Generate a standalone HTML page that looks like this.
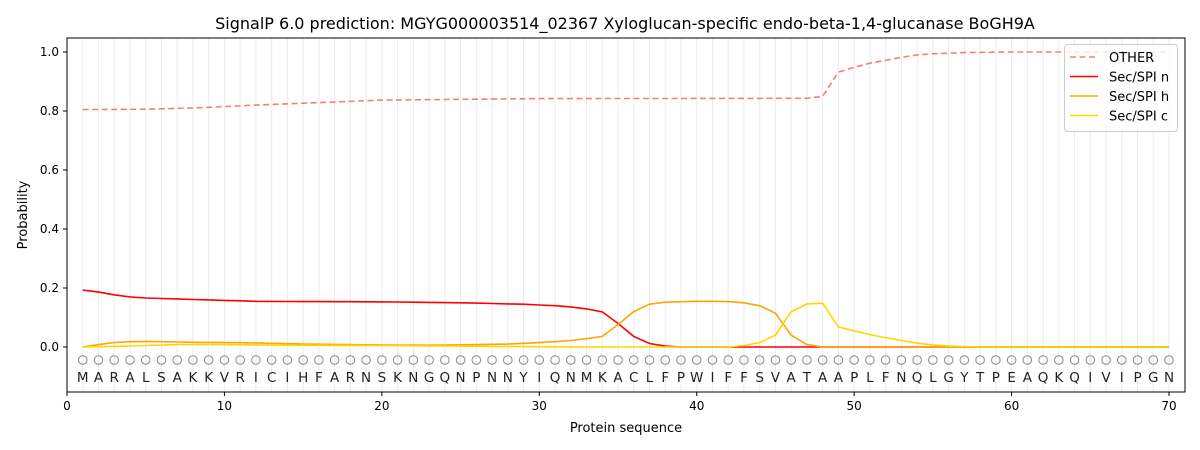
<!DOCTYPE html>
<html><head><meta charset="utf-8"><style>body{margin:0;background:#fff}svg{display:block;font-family:"DejaVu Sans","Liberation Sans",sans-serif}</style></head>
<body>
<svg id="s" width="1200" height="450" xmlns="http://www.w3.org/2000/svg"></svg>
<script>
const X=i=>67+i*15.743, Y=v=>347-v*295;
const seq="MARALSAKKVRICIHFARNSKNGQNPNNYIQNMKACLFPWIFFSVATAAPLFNQLGYTPEAQKQIVIPGN";
function interp(pts){const a=[];for(let i=1;i<=70;i++){let v;for(let k=0;k<pts.length-1;k++){if(i>=pts[k][0]&&i<=pts[k+1][0]){const t=(i-pts[k][0])/(pts[k+1][0]-pts[k][0]);v=pts[k][1]+t*(pts[k+1][1]-pts[k][1]);break;}}if(v===undefined)v=pts[pts.length-1][1];a.push(v);}return a;}
const other=interp([[1,.805],[5,.806],[8,.81],[12,.82],[20,.837],[30,.842],[47,.843],[48,.85],[49,.932],[50,.948],[51,.962],[52,.972],[53,.982],[54,.99],[55,.994],[57,.998],[60,1],[70,1]]);
const n=interp([[1,.193],[2,.186],[3,.177],[4,.17],[5,.166],[7,.163],[8,.161],[10,.158],[12,.155],[15,.154],[20,.153],[25,.15],[29,.145],[31,.14],[32,.136],[33,.129],[34,.119],[35,.08],[36,.036],[37,.012],[38,.003],[39,0],[70,0]]);
const h=interp([[1,0],[2,.008],[3,.015],[4,.018],[5,.019],[6,.018],[8,.016],[12,.014],[15,.01],[20,.007],[23,.006],[26,.008],[28,.01],[30,.015],[31,.018],[32,.022],[33,.028],[34,.036],[35,.076],[36,.12],[37,.145],[38,.152],[40,.155],[41,.155],[42,.154],[43,.15],[44,.14],[45,.115],[46,.04],[47,.008],[48,0],[70,0]]);
const c=interp([[1,0],[3,.002],[5,.005],[7,.008],[10,.008],[14,.006],[20,.005],[25,.003],[30,.001],[33,0],[42,0],[43,.005],[44,.015],[45,.04],[46,.12],[47,.146],[48,.148],[49,.068],[50,.055],[51,.042],[52,.032],[53,.022],[54,.013],[55,.007],[56,.003],[58,0],[70,0]]);
let s='';
s+='<text x="625" y="29" font-size="16" text-anchor="middle" fill="#000">SignalP 6.0 prediction: MGYG000003514_02367 Xyloglucan-specific endo-beta-1,4-glucanase BoGH9A</text>';
for(let i=1;i<=70;i++){s+=`<line x1="${X(i)}" y1="38" x2="${X(i)}" y2="392" stroke="#ebebeb" stroke-width="1"/>`;
s+=`<circle cx="${X(i)}" cy="360" r="4.3" fill="none" stroke="#888" stroke-width="1"/>`;
s+=`<text x="${X(i)}" y="382" font-size="13.5" text-anchor="middle" fill="#222">${seq[i-1]}</text>`;}
const path=(a,col,d)=>`<polyline fill="none" stroke="${col}" stroke-width="1.6" ${d?'stroke-dasharray="6,3.5"':''} points="${a.map((v,i)=>X(i+1).toFixed(1)+','+Y(v).toFixed(1)).join(' ')}"/>`;
s+=path(other,'#f08080',1)+path(n,'#ff0000')+path(h,'#ffa500')+path(c,'#ffd700');
s+='<rect x="67" y="38" width="1118" height="354" fill="none" stroke="#000" stroke-width="1"/>';
for(let t=0;t<=70;t+=10){s+=`<line x1="${X(t)}" y1="392" x2="${X(t)}" y2="396" stroke="#000"/><text x="${X(t)}" y="410" font-size="12" text-anchor="middle">${t}</text>`;}
for(let k=0;k<=5;k++){const v=k*.2;s+=`<line x1="63" y1="${Y(v)}" x2="67" y2="${Y(v)}" stroke="#000"/><text x="59" y="${Y(v)+4}" font-size="12" text-anchor="end">${v.toFixed(1)}</text>`;}
s+='<text x="626" y="432" font-size="13" text-anchor="middle">Protein sequence</text>';
s+='<text x="27" y="215" font-size="13" text-anchor="middle" transform="rotate(-90 27 215)">Probability</text>';
s+='<rect x="1064.5" y="44.5" width="113" height="87" rx="3" fill="#fff" fill-opacity="0.8" stroke="#ccc"/>';
const leg=[['OTHER','#f08080',1],['Sec/SPI n','#ff0000'],['Sec/SPI h','#ffa500'],['Sec/SPI c','#ffd700']];
leg.forEach((l,i)=>{const y=57+i*19.5;s+=`<line x1="1070" y1="${y}" x2="1098" y2="${y}" stroke="${l[1]}" stroke-width="1.6" ${l[2]?'stroke-dasharray="6,3.5"':''}/><text x="1109" y="${y+5}" font-size="13">${l[0]}</text>`;});
document.getElementById('s').innerHTML=s;
</script>
</body></html>
